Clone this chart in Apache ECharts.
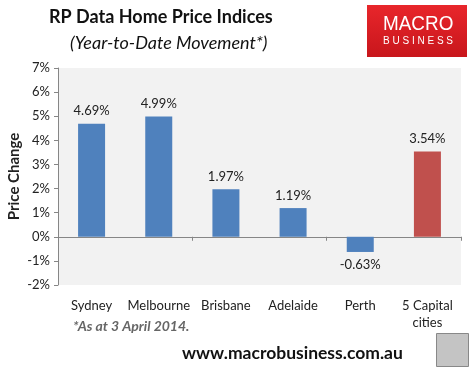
<!DOCTYPE html>
<html>
<head>
<meta charset="utf-8">
<script src="https://cdn.jsdelivr.net/npm/echarts@6/dist/echarts.min.js"></script>
<style>
  html, body { margin: 0; padding: 0; background: #fff; }
  #chart { width: 475px; height: 376px; }
</style>
</head>
<body>
<div id="chart"></div>
<script>
  // values
  const cities = ['Sydney', 'Melbourne', 'Brisbane', 'Adelaide', 'Perth', '5 Capital\ncities']
  const ytdChange = [4.69, 4.99, 1.97, 1.19, -0.63, 3.54]
  const barColors = ['#4F81BD', '#4F81BD', '#4F81BD', '#4F81BD', '#4F81BD', '#C0504D']

  const font = 'Lato, "Open Sans", sans-serif'

  const chart = echarts.init(document.getElementById('chart'))

  const option = {
    backgroundColor: '#fff',
    animation: false,
    textStyle: { fontFamily: font },
    grid: {
      left: 58, right: 14, top: 68, bottom: 91,
      outerBoundsMode: 'none',
      containLabel: false,
      show: true, backgroundColor: '#F2F2F2', borderWidth: 0
    },
    xAxis: [
      {
        // zero line with ticks between the categories
        type: 'category',
        data: cities,
        position: 'bottom',
        axisLine: { show: true, onZero: true, lineStyle: { color: '#868686' } },
        axisTick: { show: true, length: 4, lineStyle: { color: '#868686' } },
        axisLabel: { show: false }
      },
      {
        // labels along the bottom
        type: 'category',
        data: cities,
        position: 'bottom',
        axisLine: { show: false, onZero: false },
        axisTick: { show: false },
        axisLabel: { interval: 0, color: '#222', fontSize: 13, fontFamily: font, margin: 12, lineHeight: 17 }
      }
    ],
    yAxis: {
      type: 'value',
      min: -2, max: 7, interval: 1,
      name: 'Price Change',
      nameLocation: 'middle',
      nameGap: 36,
      nameMoveOverlap: false,
      nameTextStyle: { fontSize: 15, fontWeight: 'bold', color: '#222', fontFamily: font },
      axisLine: { show: true, lineStyle: { color: '#868686' } },
      axisTick: { show: true, length: 4, lineStyle: { color: '#868686' } },
      splitLine: { show: false },
      axisLabel: { formatter: '{value}%', color: '#222', fontSize: 13, fontFamily: font, margin: 8 }
    },
    series: [{
      type: 'bar',
      xAxisIndex: 0,
      barWidth: 27,
      data: ytdChange.map((v, i) => ({
        value: v,
        itemStyle: { color: barColors[i] },
        label: { position: v < 0 ? 'bottom' : 'top' }
      })),
      label: {
        show: true,
        formatter: p => p.value.toFixed(2) + '%',
        color: '#222', fontSize: 13, fontFamily: font, distance: 6
      }
    }],
    graphic: [
      {
        type: 'text', left: 49, top: 8,
        style: { text: 'RP Data Home Price Indices', font: 'bold 18px ' + font, fill: '#111' }
      },
      {
        type: 'text', left: 70, top: 34,
        style: { text: '(Year-to-Date Movement*)', font: 'italic 18px ' + font, fill: '#111' }
      },
      {
        type: 'rect', left: 367, top: 5,
        shape: { width: 100, height: 52 },
        style: {
          fill: new echarts.graphic.LinearGradient(0, 0, 0, 1, [
            { offset: 0, color: '#E8262B' }, { offset: 1, color: '#C8161C' }
          ])
        }
      },
      {
        type: 'text', x: 383, y: 14, scaleX: 0.9,
        style: { text: 'MACRO', font: '21px "Liberation Sans", Arial, sans-serif', fill: '#fff' }
      },
      {
        type: 'text', x: 383, y: 36,
        style: { text: 'B U S I N E S S', font: '10px "Liberation Sans", Arial, sans-serif', fill: '#fff' }
      },
      {
        type: 'text', left: 73, top: 319,
        style: { text: '*As at 3 April 2014.', font: 'italic bold 14px ' + font, fill: '#666' }
      },
      {
        type: 'text', left: 182, top: 344,
        style: { text: 'www.macrobusiness.com.au', font: 'bold 17.5px ' + font, fill: '#111' }
      },
      {
        type: 'rect', left: 436, top: 333,
        shape: { width: 32, height: 33 },
        style: { fill: '#c4c4c4', stroke: '#888', lineWidth: 1 }
      }
    ]
  }

  chart.setOption(option)
  window.addEventListener('resize', () => chart.resize())
</script>
</body>
</html>
